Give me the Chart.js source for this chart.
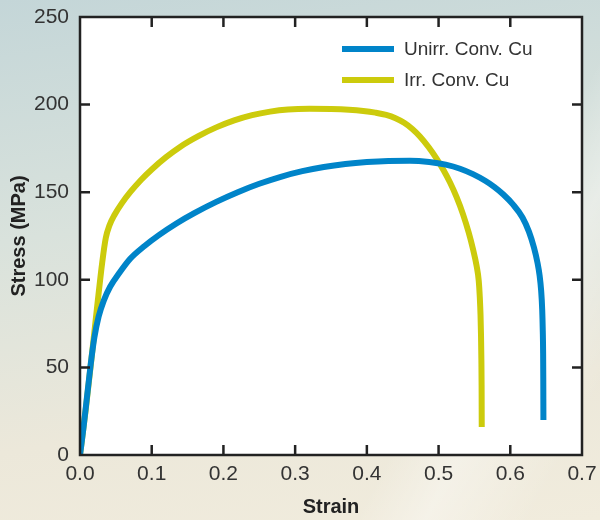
<!DOCTYPE html>
<html>
<head>
<meta charset="utf-8">
<script src="https://cdn.jsdelivr.net/npm/chart.js@4"></script>
<style>
  html, body { margin: 0; padding: 0; }
  body {
    width: 600px; height: 520px; overflow: hidden;
    background:
      linear-gradient(118deg, rgba(255,255,255,0) 72%, rgba(255,255,255,0.35) 80%, rgba(255,255,255,0) 92%),
      linear-gradient(172deg, #c4d6d8 0%, #d9e2dc 40%, #ece8da 75%, #f1ecdd 100%);
  }
  #wrap { position: relative; width: 600px; height: 520px; }
</style>
</head>
<body>
<div id="wrap"><canvas id="stressStrain"></canvas></div>
<script>
// tensile curves, strain (-) vs stress (MPa)
const unirrStrain = [0, 0.005, 0.01, 0.015, 0.02, 0.026, 0.033, 0.042, 0.055, 0.07, 0.09, 0.11, 0.135, 0.16, 0.19, 0.22, 0.25, 0.28, 0.31, 0.34, 0.37, 0.40, 0.43, 0.46, 0.487, 0.51, 0.53, 0.548, 0.565, 0.578, 0.59, 0.604, 0.617, 0.626, 0.633, 0.638, 0.641, 0.643, 0.6445, 0.6453, 0.6458, 0.646, 0.6461, 0.6462];
const unirrStress = [0, 16, 34, 52, 67, 79, 88, 96, 104, 112, 119.3, 125.5, 132.3, 138.2, 144.5, 150, 154.8, 158.8, 162, 164.4, 166.1, 167.2, 167.8, 167.9, 167.2, 165.7, 163.4, 160.3, 156.5, 152.9, 148.8, 142.9, 135.6, 127.5, 118.4, 109.6, 102.1, 94, 83, 71, 58, 44, 32, 20];

const irrStrain = [0, 0.008, 0.016, 0.024, 0.031, 0.036, 0.041, 0.048, 0.058, 0.07, 0.085, 0.1, 0.12, 0.14, 0.165, 0.19, 0.215, 0.24, 0.265, 0.29, 0.32, 0.35, 0.375, 0.395, 0.412, 0.427, 0.44, 0.452, 0.463, 0.474, 0.486, 0.497, 0.507, 0.516, 0.525, 0.534, 0.542, 0.548, 0.553, 0.556, 0.5575, 0.5585, 0.5592, 0.5597, 0.56, 0.5601, 0.5602];
const irrStress = [0, 26, 55, 85, 110, 124, 131, 137, 143.5, 150, 157, 163, 170, 176, 182, 187, 191, 194, 196, 197.2, 197.6, 197.5, 197.1, 196.4, 195.4, 194.1, 192.2, 189.6, 186.2, 181.8, 175.8, 169.3, 162.5, 155.5, 147.3, 137.5, 127, 117.5, 108, 99.5, 90, 80, 68, 54, 40, 28, 16];

const xTicks = [0, 0.1, 0.2, 0.3, 0.4, 0.5, 0.6, 0.7];
const yTicks = [0, 50, 100, 150, 200, 250];

const seriesNames = ['Unirr. Conv. Cu', 'Irr. Conv. Cu'];
const seriesColors = ['#0084c9', '#cccb0c'];

const FONT = '"Liberation Sans", Arial, sans-serif';
const INK = '#333333';

function toPoints(xs, ys) {
  return xs.map((x, i) => ({ x: x, y: ys[i] }));
}

// white plot area, frame and inward ticks on all four sides
const frame = {
  id: 'frame',
  beforeDraw(chart) {
    const a = chart.chartArea, ctx = chart.ctx;
    ctx.save();
    ctx.fillStyle = '#ffffff';
    ctx.fillRect(a.left, a.top, a.right - a.left, a.bottom - a.top);
    ctx.restore();
  },
  afterDatasetsDraw(chart) {
    const a = chart.chartArea, ctx = chart.ctx;
    const xs = chart.scales.x, ys = chart.scales.y;
    const len = 10;
    ctx.save();
    ctx.strokeStyle = '#222222';
    ctx.lineWidth = 2.5;
    ctx.beginPath();
    xTicks.slice(1, -1).forEach(v => {
      const px = xs.getPixelForValue(v);
      ctx.moveTo(px, a.bottom); ctx.lineTo(px, a.bottom - len);
      ctx.moveTo(px, a.top); ctx.lineTo(px, a.top + len);
    });
    yTicks.slice(1, -1).forEach(v => {
      const py = ys.getPixelForValue(v);
      ctx.moveTo(a.left, py); ctx.lineTo(a.left + len, py);
      ctx.moveTo(a.right, py); ctx.lineTo(a.right - len, py);
    });
    ctx.stroke();
    ctx.strokeRect(a.left, a.top, a.right - a.left, a.bottom - a.top);
    ctx.restore();
  }
};

// legend sits inside the plot, top right
const innerLegend = {
  id: 'innerLegend',
  afterDraw(chart) {
    const ctx = chart.ctx;
    const x0 = 342, y0 = 49, gap = 31, w = 52;
    ctx.save();
    ctx.font = '19px ' + FONT;
    ctx.textBaseline = 'middle';
    chart.data.datasets.forEach((ds, i) => {
      const y = y0 + i * gap;
      ctx.strokeStyle = ds.borderColor;
      ctx.lineWidth = 6;
      ctx.beginPath();
      ctx.moveTo(x0, y); ctx.lineTo(x0 + w, y);
      ctx.stroke();
      ctx.fillStyle = INK;
      ctx.fillText(ds.label, x0 + w + 10, y + 1);
    });
    ctx.restore();
  }
};

const datasets = [
  toPoints(unirrStrain, unirrStress),
  toPoints(irrStrain, irrStress)
].map((pts, i) => ({
  label: seriesNames[i],
  data: pts,
  showLine: true,
  borderColor: seriesColors[i],
  backgroundColor: seriesColors[i],
  borderWidth: 6,
  pointRadius: 0,
  cubicInterpolationMode: 'monotone',
  borderJoinStyle: 'round',
  fill: false
}));

const chart = new Chart(document.getElementById('stressStrain'), {
  type: 'scatter',
  data: { datasets: datasets },
  options: {
    responsive: true,
    maintainAspectRatio: false,
    animation: false,
    layout: { padding: { top: 17, right: 18, left: 0, bottom: 0 } },
    plugins: {
      legend: { display: false },
      tooltip: { enabled: false }
    },
    scales: {
      x: {
        type: 'linear',
        min: 0, max: 0.7,
        afterBuildTicks: s => { s.ticks = xTicks.map(v => ({ value: v })); },
        afterFit: s => { s.height = 65; s.paddingLeft = 0; s.paddingRight = 0; },
        grid: { display: false, drawTicks: false },
        border: { display: false },
        ticks: {
          color: INK, padding: 7, maxRotation: 0,
          font: { family: FONT, size: 21 },
          callback: v => Number(v).toFixed(1)
        },
        title: {
          display: true, text: 'Strain', color: '#222',
          font: { family: FONT, size: 20, weight: 'bold' },
          padding: { top: 0, bottom: 1 }
        }
      },
      y: {
        type: 'linear',
        min: 0, max: 250,
        afterBuildTicks: s => { s.ticks = yTicks.map(v => ({ value: v })); },
        afterFit: s => { s.width = 80; s.paddingTop = 0; s.paddingBottom = 0; },
        grid: { display: false, drawTicks: false },
        border: { display: false },
        ticks: {
          color: INK, padding: 11,
          font: { family: FONT, size: 21 }
        },
        title: {
          display: true, text: 'Stress (MPa)', color: '#222',
          font: { family: FONT, size: 20, weight: 'bold' },
          padding: { top: 7, bottom: 0 }
        }
      }
    }
  },
  plugins: [frame, innerLegend]
});
</script>
</body>
</html>
